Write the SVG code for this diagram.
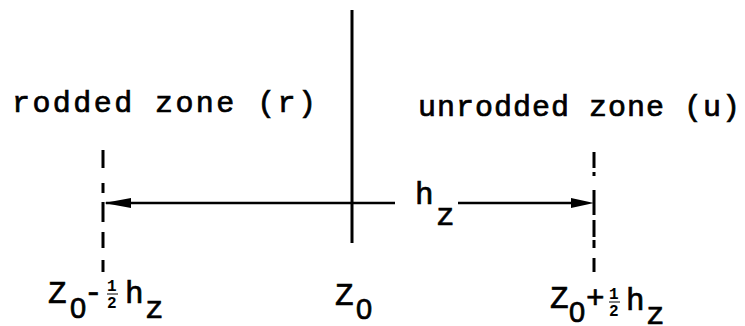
<svg xmlns="http://www.w3.org/2000/svg" width="745" height="326" viewBox="0 0 745 326">
<style>
text{font-family:"Liberation Mono","DejaVu Sans Mono",monospace;fill:#000;stroke:#000;stroke-width:0.7}
.lbl{font-size:30px}
.m{font-size:31px}
.o{font-family:"Liberation Sans",Arial,sans-serif;font-size:29px}
.fr{font-size:16px;font-weight:bold;stroke-width:0}
.ln{stroke:#000;stroke-width:3;fill:none}
.ar{stroke:#000;stroke-width:2.5;fill:none}
.ds{stroke:#000;stroke-width:3;fill:none}
</style>
<rect width="745" height="326" fill="#fff"/>
<g id="connectors">
<line class="ln" x1="352" y1="10" x2="352" y2="243"/>
<path class="ds" d="M103,150 V168 M103,183 V193 M103,202 V222 M103,232 V248 M103,260 V272"/>
<path class="ds" d="M594,152 V168 M594,172 V176 M594,190 V215 M594,220 V237 M594,240 V248 M594,258 V272"/>
<path class="ar" d="M395,203 H106"/>
<path d="M104,203 L131,198 L131,208 Z" fill="#000"/>
<path class="ar" d="M458,203 H575"/>
<path d="M594,203 L571,198 L571,208 Z" fill="#000"/>
</g>
<g id="label-rodded"><text class="lbl" x="12" y="112" textLength="304" lengthAdjust="spacing">rodded zone (r)</text></g>
<g id="label-unrodded"><text class="lbl" x="418" y="116" textLength="322" lengthAdjust="spacing">unrodded zone (u)</text></g>
<g id="label-hz"><text class="m" x="415" y="204">h</text><text class="m" x="436" y="225">z</text></g>
<g id="label-left">
<text class="m" x="48" y="303">Z</text><text class="o" x="70" y="318">0</text>
<text class="m" x="84" y="302">-</text>
<text class="fr" x="107" y="291">1</text><line x1="107" y1="294" x2="118" y2="294" stroke="#000" stroke-width="1"/><text class="fr" x="107" y="308">2</text>
<text class="m" x="125" y="303">h</text><text class="m" x="145" y="318">z</text>
</g>
<g id="label-mid">
<text class="m" x="335" y="305">Z</text><text class="o" x="356" y="319">0</text>
</g>
<g id="label-right">
<text class="m" x="550" y="308">Z</text><text class="o" x="569" y="322">0</text>
<text class="m" x="586" y="308">+</text>
<text class="fr" x="609" y="299">1</text><line x1="609" y1="302" x2="620" y2="302" stroke="#000" stroke-width="1"/><text class="fr" x="609" y="316">2</text>
<text class="m" x="626" y="310">h</text><text class="m" x="646" y="324">z</text>
</g>
</svg>
